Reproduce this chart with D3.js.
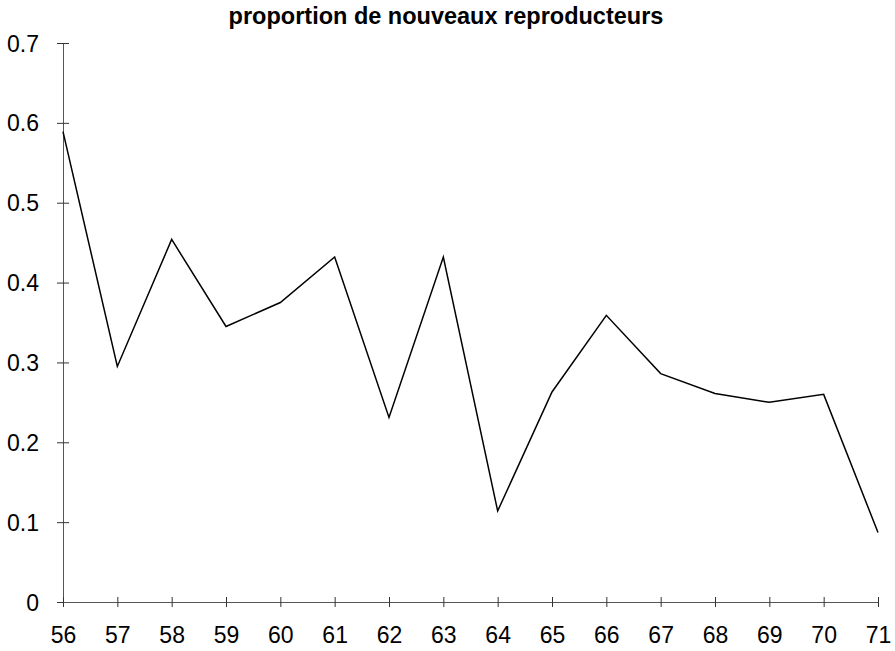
<!DOCTYPE html>
<html>
<head>
<meta charset="utf-8">
<script src="https://cdn.jsdelivr.net/npm/d3@7"></script>
<style>
body { margin: 0; background: #fff; }
text { font-family: "Liberation Sans", Arial, sans-serif; }
</style>
</head>
<body>
<svg></svg>
<script>
var width = 895;
var height = 651;

var years = [56, 57, 58, 59, 60, 61, 62, 63, 64, 65, 66, 67, 68, 69, 70, 71];
var proportion = [0.589, 0.295, 0.454, 0.345, 0.375, 0.432, 0.231, 0.432, 0.114, 0.263, 0.359, 0.286, 0.261, 0.250, 0.260, 0.087];
var yTicks = [0, 0.1, 0.2, 0.3, 0.4, 0.5, 0.6, 0.7];
var title = "proportion de nouveaux reproducteurs";

var svg = d3.select("svg").attr("width", width).attr("height", height);

var x = d3.scaleLinear().domain([56, 71]).range([63, 878]);
var y = d3.scaleLinear().domain([0, 0.7]).range([602, 43]);

svg.append("text")
	.attr("x", 446)
	.attr("y", 24)
	.attr("text-anchor", "middle")
	.style("font-weight", "bold")
	.style("font-size", "23.5px")
	.text(title);

// y axis, ticks cross the line
var yAxis = svg.append("g").attr("transform", "translate(63,0)")
	.call(d3.axisLeft(y).tickValues(yTicks).tickSizeInner(6).tickSizeOuter(0).tickPadding(18)
		.tickFormat(function(d) { return d === 0 ? "0" : d3.format(".1f")(d); }));
yAxis.selectAll(".tick line").attr("x2", 6).attr("x1", -6).attr("stroke", "#333");
yAxis.select(".domain").attr("stroke", "#555");
yAxis.selectAll("text").style("font-size", "23px").attr("dy", "0.35em").attr("fill", "#000");

var xAxis = svg.append("g").attr("transform", "translate(0,602)")
	.call(d3.axisBottom(x).tickValues(years).tickSizeInner(5).tickSizeOuter(0).tickPadding(0)
		.tickFormat(d3.format("d")));
xAxis.selectAll(".tick line").attr("y1", -5).attr("y2", 5).attr("stroke", "#333");
xAxis.select(".domain").attr("stroke", "#555");
xAxis.selectAll("text").style("font-size", "23px").attr("y", 41).attr("dy", null).attr("fill", "#000");

var line = d3.line()
	.x(function(d, i) { return x(years[i]); })
	.y(function(d) { return y(d); });

svg.append("path")
	.datum(proportion)
	.attr("fill", "none")
	.attr("stroke", "#000")
	.attr("stroke-width", 1.5)
	.attr("d", line);
</script>
</body>
</html>
